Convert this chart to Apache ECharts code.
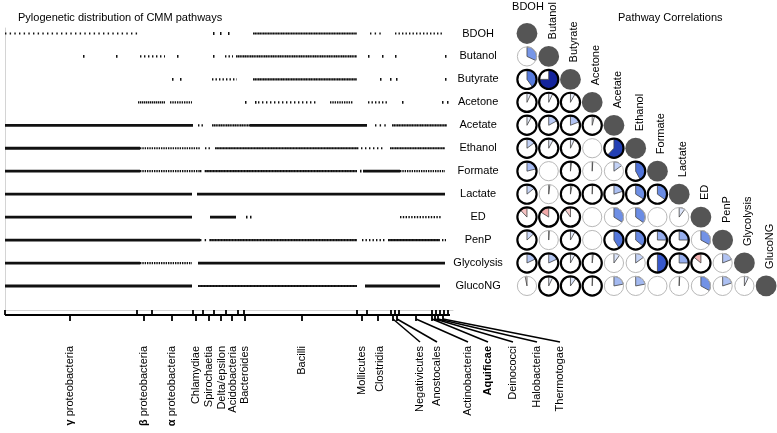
<!DOCTYPE html>
<html><head><meta charset="utf-8">
<script src="https://cdn.jsdelivr.net/npm/echarts@6/dist/echarts.min.js"></script>
<style>html,body{margin:0;padding:0;background:#fff}#c{width:777px;height:433px}</style>
</head><body><div id="c"></div>
<script>
const pathways = ['BDOH','Butanol','Butyrate','Acetone','Acetate','Ethanol','Formate','Lactate','ED','PenP','Glycolysis','GlucoNG'];

// presence along the genome ordering: [start, end, fraction of genomes carrying the pathway]
const presBDOH = [[0,135,0.3],[208,209,1],[215,216,1],[223,224,1],[248,352,0.85],[365,378,0.3],[390,437,0.4]];
const presButanol = [[78,79,1],[111,112,1],[135,160,0.35],[172,173,1],[208,209,1],[220,228,0.4],[231,352,0.8],[363,364,1],[377,378,1],[390,391,1],[440,441,1]];
const presButyrate = [[167,168,1],[175,176,1],[207,232,0.4],[248,352,0.85],[375,376,1],[385,386,1],[391,392,1],[440,441,1]];
const presAcetone = [[133,160,0.7],[165,187,0.6],[240,241,1],[250,251,1],[253,312,0.35],[325,348,0.6],[363,383,0.4],[397,398,1],[437,438,1],[442,443,1]];
const presAcetate = [[0,188,1],[193,200,0.4],[207,245,0.8],[245,362,1],[370,383,0.3],[387,442,0.85]];
const presEthanol = [[0,135,1],[135,195,0.6],[200,207,0.4],[210,352,0.9],[352,380,0.35],[385,440,0.85]];
const presFormate = [[0,135,1],[135,195,0.6],[195,200,0.3],[200,352,0.9],[355,356,1],[358,395,1],[395,440,0.6]];
const presLactate = [[0,187,1],[192,440,1]];
const presED = [[0,187,1],[205,231,1],[241,242,1],[245,246,1],[395,437,0.5]];
const presPenP = [[0,195,1],[195,205,0.3],[205,352,0.9],[357,380,0.4],[383,435,0.95],[437,441,0.5]];
const presGlycolysis = [[0,135,1],[135,187,0.6],[193,440,1]];
const presGlucoNG = [[0,187,1],[193,352,0.95],[360,435,1]];
const presence = [presBDOH,presButanol,presButyrate,presAcetone,presAcetate,presEthanol,presFormate,presLactate,presED,presPenP,presGlycolysis,presGlucoNG];

// taxonomic groups along the genome ordering
const taxaNames = ['{b|γ} proteobacteria','{b|β} proteobacteria','{b|α} proteobacteria','Chlamydiae','Spirochaetia','Delta/epsilon','Acidobacteria','Bacteroides','Bacilli','Mollicutes','Clostridia','Negativicutes','Anostocales','Actinobacteria','{b|Aquificae}','Deinococci','Halobacteria','Thermotogae'];
const taxaTick = [65,139,167,191,204,216,227,240,297,357,373,388,392,411,427,430,433,438];
const taxaLabelAt = [65,139,167,191,204,217,228,240,297,357,375,415,432,463,483,508,532,555];
const groupBounds = [0,132,147,188,198,209,221,233,239,352,362,386,390,394,427,431,435,439,443];

// pairwise pathway correlations (lower triangle, row by row)
const corrButanol = [0.32];
const corrButyrate = [0.40,0.75];
const corrAcetone = [0.07,0.07,0.08];
const corrAcetate = [0.08,0.17,0.19,0.04];
const corrEthanol = [0.15,0.08,0.07,0,0.62];
const corrFormate = [0.21,0,0.02,0.01,0.15,0.42];
const corrLactate = [0.14,0.02,0.03,0.01,0.2,0.34,0.35];
const corrED = [-0.12,-0.16,-0.1,0,0.34,0.35,0,0.1];
const corrPenP = [0.13,0.01,0.08,0,0.41,0.36,0.25,0.25,0.33];
const corrGlycolysis = [0.18,0.18,0.08,0.02,0.1,0.15,0.5,0.25,-0.14,0.19];
const corrGlucoNG = [-0.03,0.07,0.1,0.01,0.22,0.22,0,0.01,0.33,0.2,0.07];
const corrRows = [corrButanol,corrButyrate,corrAcetone,corrAcetate,corrEthanol,corrFormate,corrLactate,corrED,corrPenP,corrGlycolysis,corrGlucoNG];

// significance (1 = significant)
const sigButanol = [0];
const sigButyrate = [1,1];
const sigAcetone = [1,1,1];
const sigAcetate = [1,1,1,1];
const sigEthanol = [1,1,1,0,1];
const sigFormate = [1,0,1,0,0,1];
const sigLactate = [1,0,1,1,1,1,1];
const sigED = [1,1,1,0,0,0,0,0];
const sigPenP = [1,0,1,0,1,1,1,1,0];
const sigGlycolysis = [1,1,1,1,0,0,1,1,1,0];
const sigGlucoNG = [0,1,1,1,0,0,0,0,0,0,0];
const sigRows = [sigButanol,sigButyrate,sigAcetone,sigAcetate,sigEthanol,sigFormate,sigLactate,sigED,sigPenP,sigGlycolysis,sigGlucoNG];

const FONT = '"Liberation Sans", Arial, Helvetica, sans-serif';

const segData = [];
presence.forEach((segs,row)=>segs.forEach(s=>segData.push([s[0],s[1],row,s[2]])));
const taxaData = taxaNames.map((n,i)=>[taxaTick[i],taxaLabelAt[i],i]);
const boundData = groupBounds.map(x=>[x]);
const matrixData = [];
corrRows.forEach((vals,k)=>vals.forEach((r,col)=>matrixData.push([col,k+1,r,sigRows[k][col]])));
pathways.forEach((p,i)=>matrixData.push([i,i,0,2]));
const diagData = pathways.map((p,i)=>[i,i]);

const posStops = [[0,[255,255,255]],[0.08,[230,236,251]],[0.16,[190,206,245]],[0.25,[150,174,238]],[0.34,[110,143,229]],[0.42,[80,116,218]],[0.5,[54,87,204]],[0.62,[35,64,181]],[0.75,[20,36,156]],[1,[10,20,120]]];
const negStops = [[0,[255,255,255]],[0.05,[252,232,232]],[0.1,[248,208,208]],[0.14,[243,178,178]],[0.2,[236,150,150]],[1,[200,60,60]]];
function corrColor(r){
  const stops = r>=0?posStops:negStops; const a=Math.abs(r);
  for(let i=1;i<stops.length;i++){ if(a<=stops[i][0]){ const t=(a-stops[i-1][0])/(stops[i][0]-stops[i-1][0]); const c=stops[i-1][1].map((v,j)=>Math.round(v+(stops[i][1][j]-v)*t)); return 'rgb('+c.join(',')+')'; } }
  return 'rgb('+stops[stops.length-1][1].join(',')+')';
}

const chart = echarts.init(document.getElementById('c'));
chart.setOption({
  animation:false,
  backgroundColor:'#fff',
  title:[
    {text:'Pylogenetic distribution of CMM pathways',left:13,top:7,textStyle:{fontSize:11,fontWeight:'normal',color:'#000',fontFamily:FONT}},
    {text:'Pathway Correlations',left:613,top:7,textStyle:{fontSize:11,fontWeight:'normal',color:'#000',fontFamily:FONT}}
  ],
  grid:[
    {left:5,top:28,width:448,height:282},
    {left:516.1,top:22,width:261.6,height:275.4}
  ],
  xAxis:[
    {type:'value',gridIndex:0,min:0,max:448,axisLine:{show:true,onZero:false,lineStyle:{color:'#d4d4d4',width:1}},axisTick:{show:false},axisLabel:{show:false},splitLine:{show:false}},
    {type:'category',gridIndex:1,data:pathways,show:false}
  ],
  yAxis:[
    {type:'value',gridIndex:0,inverse:true,min:-0.2396,max:12.046,axisLine:{show:true,onZero:false,lineStyle:{color:'#d4d4d4',width:1}},axisTick:{show:false},axisLabel:{show:false},splitLine:{show:false}},
    {type:'category',gridIndex:1,data:pathways,inverse:true,axisLine:{show:false},axisTick:{show:false},axisLabel:{show:true,align:'center',margin:38,fontSize:11,color:'#000',fontFamily:FONT}}
  ],
  series:[
    {type:'custom',xAxisIndex:0,yAxisIndex:0,clip:false,data:segData,encode:{x:[0,1],y:2},
     renderItem:(params,api)=>{
       const d=api.value(3), row=api.value(2);
       const p0=api.coord([api.value(0),row]), p1=api.coord([api.value(1),row]);
       const solid=d>=0.98;
       return {type:'line',shape:{x1:p0[0],y1:p0[1],x2:Math.max(p1[0],p0[0]+1.5),y2:p1[1]},
         style:{stroke:'#111',lineWidth:solid?2.8:2.2,lineDash:solid?null:[1.4,1.4*(1-d)/d]}};
     }},
    {type:'custom',xAxisIndex:0,yAxisIndex:0,clip:false,data:[[0,448]],encode:{x:[0,1]},
     renderItem:(params,api)=>{
       const cs=params.coordSys; const base=cs.y+cs.height+5;
       const a=api.coord([api.value(0),0])[0], b=api.coord([api.value(1),0])[0];
       return {type:'line',shape:{x1:a,y1:base,x2:b-3,y2:base},style:{stroke:'#000',lineWidth:2}};
     }},
    {type:'custom',xAxisIndex:0,yAxisIndex:0,clip:false,data:boundData,encode:{x:0},
     renderItem:(params,api)=>{
       const cs=params.coordSys; const base=cs.y+cs.height+5;
       const x=api.coord([api.value(0),0])[0];
       return {type:'line',shape:{x1:x,y1:base-5,x2:x,y2:base},style:{stroke:'#000',lineWidth:1.8}};
     }},
    {type:'custom',xAxisIndex:0,yAxisIndex:0,clip:false,data:taxaData,encode:{x:[0,1]},
     renderItem:(params,api)=>{
       const cs=params.coordSys; const base=cs.y+cs.height+5;
       const tx=api.coord([api.value(0),0])[0], lx=api.coord([api.value(1),0])[0];
       const i=api.value(2);
       const ch=[{type:'line',shape:{x1:tx,y1:base,x2:tx,y2:base+6},style:{stroke:'#000',lineWidth:1.8}}];
       if(Math.abs(lx-tx)>3) ch.push({type:'line',shape:{x1:tx,y1:base+4,x2:lx,y2:base+27},style:{stroke:'#000',lineWidth:1.5}});
       ch.push({type:'text',x:lx,y:base+31,rotation:Math.PI/2,
         style:{text:taxaNames[i],fontSize:11,fontFamily:FONT,fill:'#000',align:'right',verticalAlign:'middle',
           rich:{b:{fontSize:11,fontFamily:FONT,fontWeight:'bold',fill:'#000'}}}});
       return {type:'group',children:ch};
     }},
    {type:'custom',xAxisIndex:1,yAxisIndex:1,clip:false,data:matrixData,
     renderItem:(params,api)=>{
       const c=api.coord([api.value(0),api.value(1)]); const r=api.value(2), s=api.value(3);
       const cx=c[0], cy=c[1];
       if(s===2) return {type:'circle',shape:{cx,cy,r:10.4},style:{fill:'#555555'}};
       const ch=[{type:'circle',shape:{cx,cy,r:9.6},style:{fill:'#fff'}}];
       if(Math.abs(r)>0.001){
         const top=-Math.PI/2, ang=Math.abs(r)*2*Math.PI;
         const sa=r>0?top:top-ang, ea=r>0?top+ang:top;
         ch.push({type:'sector',shape:{cx,cy,r0:0,r:9.6,startAngle:sa,endAngle:ea,clockwise:true},style:{fill:corrColor(r),stroke:'#444',lineWidth:0.8}});
       }
       ch.push({type:'circle',shape:{cx,cy,r:9.6},style:{fill:null,stroke:s?'#000':'#b8b8b8',lineWidth:s?2.2:1}});
       return {type:'group',children:ch};
     }},
    {type:'custom',xAxisIndex:1,yAxisIndex:1,clip:false,data:diagData,
     renderItem:(params,api)=>{
       const i=api.value(0); const c=api.coord([i,api.value(1)]);
       if(i===0) return {type:'text',x:c[0]+1,y:c[1]-26.5,style:{text:pathways[i],fontSize:11,fontFamily:FONT,fill:'#000',align:'center',verticalAlign:'middle'}};
       return {type:'text',x:c[0]+4,y:c[1]-17,rotation:Math.PI/2,style:{text:pathways[i],fontSize:11,fontFamily:FONT,fill:'#000',align:'left',verticalAlign:'middle'}};
     }}
  ]
});
</script></body></html>
